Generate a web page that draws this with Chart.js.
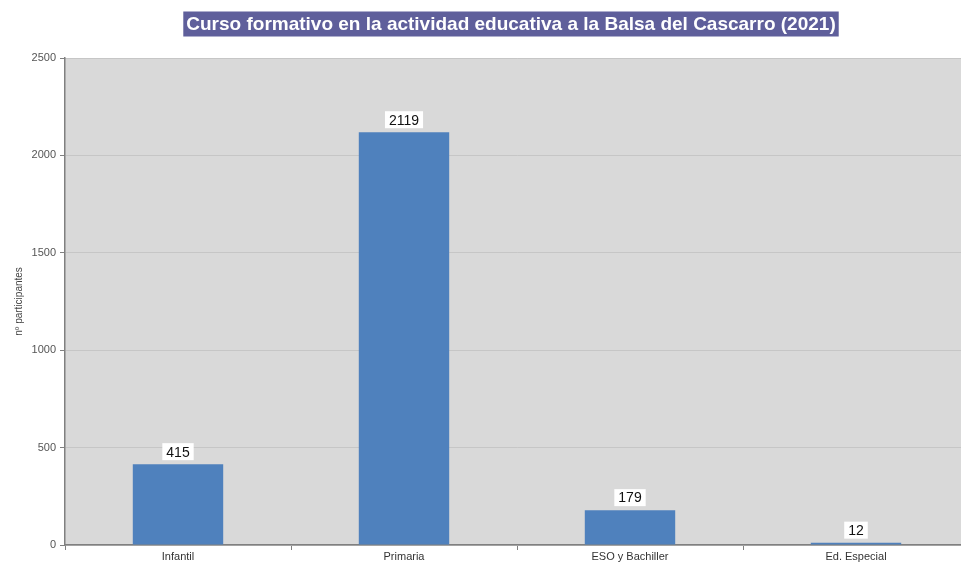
<!DOCTYPE html>
<html>
<head>
<meta charset="utf-8">
<script src="https://cdn.jsdelivr.net/npm/chart.js@4/dist/chart.umd.min.js"></script>
<style>
  html, body { margin: 0; padding: 0; background: #fff; overflow: hidden; }
  #wrap { width: 961px; height: 563px; overflow: hidden; }
</style>
</head>
<body>
<div id="wrap"><canvas id="chart" width="975" height="563"></canvas></div>
<script>
const titleText = 'Curso formativo en la actividad educativa a la Balsa del Cascarro (2021)';
const categories = ['Infantil', 'Primaria', 'ESO y Bachiller', 'Ed. Especial'];
const participants = [415, 2119, 179, 12];
const yAxisTitle = 'nº participantes';

const FONT = '"Liberation Sans", Arial, sans-serif';

// plot background + dotted top edge
const plotBg = {
  id: 'plotBg',
  beforeDraw(chart) {
    const { ctx, chartArea: a } = chart;
    ctx.save();
    ctx.fillStyle = '#d9d9d9';
    ctx.fillRect(a.left, a.top, a.right - a.left, a.bottom - a.top);
    ctx.strokeStyle = '#b8b8b8';
    ctx.setLineDash([1, 2]);
    ctx.lineWidth = 1;
    ctx.beginPath();
    ctx.moveTo(a.left, a.top + 0.5);
    ctx.lineTo(a.right, a.top + 0.5);
    ctx.stroke();
    ctx.restore();
  }
};

// title in a purple box, centred over the plot
const titleBox = {
  id: 'titleBox',
  afterDraw(chart) {
    const { ctx } = chart;
    ctx.save();
    ctx.font = 'bold 19px ' + FONT;
    const w = ctx.measureText(titleText).width;
    const cx = 511;
    const cy = 24;
    ctx.fillStyle = '#5f5f9b';
    ctx.fillRect(cx - w / 2 - 3, cy - 12.5, w + 6, 25);
    ctx.fillStyle = '#ffffff';
    ctx.textAlign = 'center';
    ctx.textBaseline = 'middle';
    ctx.fillText(titleText, cx, cy + 1);
    ctx.restore();
  }
};

// value labels in white boxes above the bars
const valueLabels = {
  id: 'valueLabels',
  afterDatasetsDraw(chart) {
    const { ctx } = chart;
    const meta = chart.getDatasetMeta(0);
    ctx.save();
    ctx.font = '14px ' + FONT;
    ctx.textAlign = 'center';
    ctx.textBaseline = 'middle';
    meta.data.forEach((bar, i) => {
      const txt = String(participants[i]);
      const w = ctx.measureText(txt).width + 8;
      const h = 17;
      const bottom = bar.y - 4;
      ctx.fillStyle = '#ffffff';
      ctx.fillRect(bar.x - w / 2, bottom - h, w, h);
      ctx.fillStyle = '#111111';
      ctx.fillText(txt, bar.x, bottom - h / 2 + 1);
    });
    ctx.restore();
  }
};

new Chart(document.getElementById('chart'), {
  type: 'bar',
  data: {
    labels: categories,
    datasets: [{
      data: participants,
      backgroundColor: '#4f81bd',
      categoryPercentage: 1,
      barPercentage: 0.4
    }]
  },
  options: {
    responsive: false,
    animation: false,
    layout: { padding: { top: 58, right: 6, left: 0, bottom: 0 } },
    scales: {
      x: {
        grid: { drawOnChartArea: false, drawTicks: true, tickLength: 5, color: '#808080' },
        border: { color: '#808080', width: 1.5 },
        ticks: { color: '#333', font: { family: FONT, size: 11 }, padding: 0 },
        afterFit(scale) { scale.height = 18; }
      },
      y: {
        min: 0,
        max: 2500,
        ticks: { stepSize: 500, color: '#555', font: { family: FONT, size: 11 }, padding: 4, callback: v => String(v) },
        grid: { color: '#c6c6c6', tickColor: '#808080', tickLength: 5 },
        border: { color: '#808080', width: 1.5 },
        title: { display: true, text: yAxisTitle, color: '#444', font: { family: FONT, size: 10 }, padding: { top: 13, bottom: 8 } },
        afterFit(scale) { scale.width = 65; }
      }
    },
    plugins: {
      legend: { display: false },
      tooltip: { enabled: false }
    }
  },
  plugins: [plotBg, titleBox, valueLabels]
});
</script>
</body>
</html>
